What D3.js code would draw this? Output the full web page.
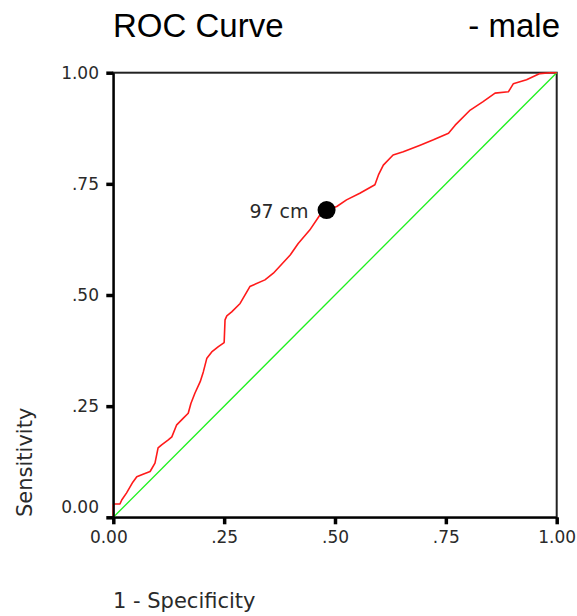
<!DOCTYPE html>
<html>
<head>
<meta charset="utf-8">
<script src="https://cdn.jsdelivr.net/npm/d3@7"></script>
<style>
  body { margin: 0; background: #fff; }
  svg { display: block; }
</style>
</head>
<body>
<svg id="svg" width="577" height="616"></svg>
<script>
// ROC curve points (1 - specificity, sensitivity)
var fpr = [0, 0, 0.002, 0.015, 0.019, 0.030, 0.044, 0.053, 0.067, 0.083, 0.094, 0.101, 0.109, 0.124, 0.132,
  0.143, 0.158, 0.169, 0.175, 0.184, 0.196, 0.203, 0.211, 0.222, 0.237, 0.250, 0.252, 0.256, 0.267,
  0.286, 0.308, 0.342, 0.361, 0.399, 0.417, 0.443, 0.466, 0.481, 0.504, 0.526, 0.556, 0.590, 0.598,
  0.609, 0.631, 0.654, 0.692, 0.722, 0.756, 0.771, 0.805, 0.834, 0.861, 0.891, 0.902, 0.932, 0.962, 0.985, 1];
var tpr = [0, 0.028, 0.030, 0.030, 0.039, 0.055, 0.079, 0.091, 0.097, 0.103, 0.122, 0.156, 0.163, 0.174, 0.181,
  0.208, 0.223, 0.234, 0.256, 0.279, 0.305, 0.327, 0.358, 0.372, 0.384, 0.393, 0.444, 0.453, 0.462,
  0.481, 0.519, 0.534, 0.549, 0.590, 0.616, 0.646, 0.680, 0.691, 0.699, 0.714, 0.729, 0.748, 0.770,
  0.792, 0.815, 0.822, 0.837, 0.849, 0.864, 0.882, 0.916, 0.935, 0.954, 0.957, 0.975, 0.984, 0.998, 1, 1];
// reference line
var refX = [0, 1];
var refY = [0, 1];
// highlighted cut-off
var cutX = [0.481];
var cutY = [0.691];
var cutLabel = ["97 cm"];
var tickVals = [0, 0.25, 0.5, 0.75, 1];
var tickText = ["0.00", ".25", ".50", ".75", "1.00"];

var svg = d3.select("#svg");
var x = d3.scaleLinear().domain([0, 1]).range([113.3, 556.7]);
var y = d3.scaleLinear().domain([0, 1]).range([517.3, 72.7]);

// title
svg.append("text").attr("x", 113).attr("y", 37)
  .style("font-family", "Liberation Sans, Arial, sans-serif").style("font-size", "33px")
  .attr("fill", "#000").text("ROC Curve");
svg.append("text").attr("x", 560).attr("y", 37).attr("text-anchor", "end")
  .style("font-family", "Liberation Sans, Arial, sans-serif").style("font-size", "33px")
  .attr("fill", "#000").text("- male");

// frame
svg.append("rect").attr("x", x(0)).attr("y", y(1))
  .attr("width", x(1) - x(0)).attr("height", y(0) - y(1))
  .attr("fill", "none").attr("stroke", "#222").attr("stroke-width", 2);

// reference diagonal
svg.append("path")
  .datum(refX.map(function(d, i) { return [d, refY[i]]; }))
  .attr("d", d3.line().x(function(d) { return x(d[0]); }).y(function(d) { return y(d[1]); }))
  .attr("fill", "none").attr("stroke", "#1ef01e").attr("stroke-width", 1.3);

// roc curve
svg.append("path")
  .datum(fpr.map(function(d, i) { return [d, tpr[i]]; }))
  .attr("d", d3.line().x(function(d) { return x(d[0]); }).y(function(d) { return y(d[1]); }))
  .attr("fill", "none").attr("stroke", "#ff1a1a").attr("stroke-width", 1.6)
  .attr("stroke-linejoin", "round");

// axes
var xAxis = svg.append("g").attr("transform", "translate(0," + y(0) + ")")
  .call(d3.axisBottom(x).tickValues(tickVals)
    .tickFormat(function(d, i) { return tickText[i]; })
    .tickSize(7).tickSizeOuter(0).tickPadding(6.5));
var yAxis = svg.append("g").attr("transform", "translate(" + x(0) + ",0)")
  .call(d3.axisLeft(y).tickValues(tickVals)
    .tickFormat(function(d, i) { return tickText[i]; })
    .tickSize(7).tickSizeOuter(0).tickPadding(7.3));

[xAxis, yAxis].forEach(function(g) {
  g.select(".domain").attr("stroke", "#000").attr("stroke-width", 2);
  g.selectAll(".tick line").attr("stroke", "#000").attr("stroke-width", 3.5);
  g.selectAll(".tick text").attr("fill", "#2a2a2a")
    .style("font-family", "DejaVu Sans, sans-serif").style("font-size", "17px");
});
// SPSS nudges the corner labels away from each other
xAxis.selectAll(".tick text").filter(function(d) { return d === 0; }).attr("dx", -5);
yAxis.selectAll(".tick text").filter(function(d) { return d === 0; }).attr("dy", "-0.3em");

// cut-off point
svg.selectAll("circle.cut").data(cutX).enter().append("circle")
  .attr("class", "cut")
  .attr("cx", function(d) { return x(d); })
  .attr("cy", function(d, i) { return y(cutY[i]); })
  .attr("r", 9).attr("fill", "#000");
svg.selectAll("text.cut").data(cutX).enter().append("text")
  .attr("class", "cut")
  .attr("x", function(d) { return x(d) - 18; })
  .attr("y", function(d, i) { return y(cutY[i]) + 8; })
  .attr("text-anchor", "end")
  .style("font-family", "DejaVu Sans, sans-serif").style("font-size", "19px")
  .attr("fill", "#2a2a2a")
  .text(function(d, i) { return cutLabel[i]; });

// axis titles
svg.append("text").attr("x", 113).attr("y", 608)
  .style("font-family", "DejaVu Sans, sans-serif").style("font-size", "21px")
  .attr("fill", "#2a2a2a").text("1 - Specificity");
svg.append("text").attr("transform", "translate(32,517) rotate(-90)")
  .style("font-family", "DejaVu Sans, sans-serif").style("font-size", "21px")
  .attr("fill", "#2a2a2a").text("Sensitivity");
</script>
</body>
</html>
